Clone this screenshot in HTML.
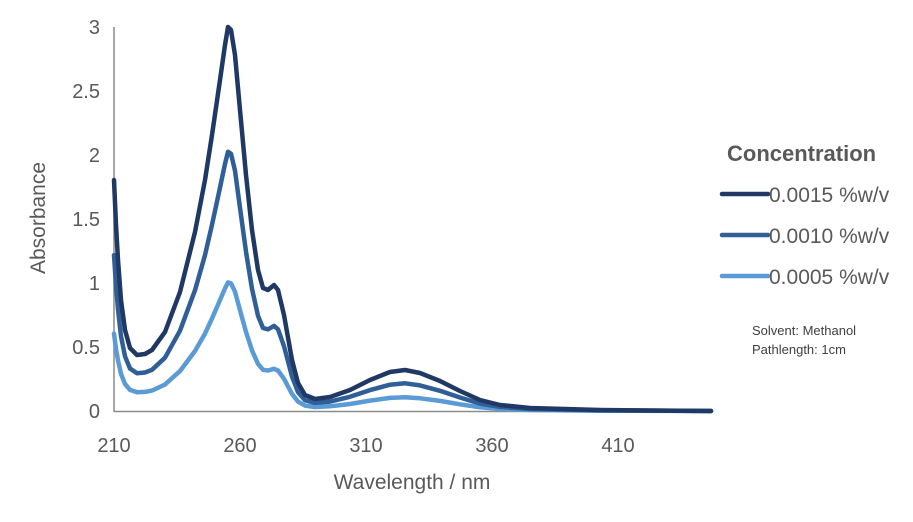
<!DOCTYPE html>
<html><head><style>body{margin:0;background:#fff}</style></head><body>
<svg id="s" width="913" height="517" xmlns="http://www.w3.org/2000/svg" font-family="Liberation Sans, sans-serif">
<rect width="913" height="517" fill="#fff"/>
<line x1="114" y1="27" x2="114" y2="412" stroke="#8c8c8c" stroke-width="1.5"/>
<line x1="114" y1="411.5" x2="711" y2="411.5" stroke="#8c8c8c" stroke-width="1.5"/>
<g fill="#595959" font-size="20" text-anchor="end">
<text x="100" y="418">0</text><text x="100" y="354">0.5</text><text x="100" y="290">1</text>
<text x="100" y="226">1.5</text><text x="100" y="162">2</text><text x="100" y="98">2.5</text><text x="100" y="34">3</text>
</g>
<g fill="#595959" font-size="20" text-anchor="middle">
<text x="114" y="452">210</text><text x="240" y="452">260</text><text x="366" y="452">310</text>
<text x="492" y="452">360</text><text x="618" y="452">410</text>
</g>
<text x="412" y="489" fill="#595959" font-size="21" text-anchor="middle">Wavelength / nm</text>
<text transform="translate(45,218) rotate(-90)" fill="#595959" font-size="21" text-anchor="middle">Absorbance</text>
<g id="curves" fill="none" stroke-width="4.5" stroke-linejoin="round" stroke-linecap="round"></g>
<text x="727" y="161" fill="#595959" font-size="22" font-weight="bold">Concentration</text>
<line x1="722" y1="194" x2="768" y2="194" stroke="#203864" stroke-width="4.5" stroke-linecap="round"/>
<line x1="722" y1="235" x2="768" y2="235" stroke="#2f5f96" stroke-width="4.5" stroke-linecap="round"/>
<line x1="722" y1="276" x2="768" y2="276" stroke="#5b9bd5" stroke-width="4.5" stroke-linecap="round"/>
<g fill="#595959" font-size="21">
<text x="769" y="202">0.0015 %w/v</text><text x="769" y="243">0.0010 %w/v</text><text x="769" y="284">0.0005 %w/v</text>
</g>
<g fill="#404040" font-size="13"><text x="752" y="335">Solvent: Methanol</text><text x="752" y="354">Pathlength: 1cm</text></g>
</svg>
<script>
var p=[[114,180],[116,225],[118,260],[121,300],[125,330],[130,348],[137,355],[145,354],[152,350],[165,332],[180,292],[195,232],[205,180],[212,135],[220,80],[225,45],[228,27],[231,30],[235,55],[240,110],[246,175],[252,230],[258,270],[263,288],[268,290],[274,285],[278,290],[284,315],[292,360],[298,383],[305,395],[315,399],[330,397],[350,390],[370,380],[390,372],[405,370],[420,373],[440,381],[460,391],[480,400],[500,405],[530,408],[600,410],[711,411]];
var cols=[["#203864",1],["#2f5f96",0.675],["#5b9bd5",0.335]];
var g=document.getElementById("curves"),ns="http://www.w3.org/2000/svg";
cols.forEach(function(c){var d=p.map(function(q,i){return (i?"L":"M")+q[0]+","+(411-(411-q[1])*c[1]).toFixed(1)}).join("");
var e=document.createElementNS(ns,"path");e.setAttribute("d",d);e.setAttribute("stroke",c[0]);g.insertBefore(e,g.firstChild);});
</script>
</body></html>
